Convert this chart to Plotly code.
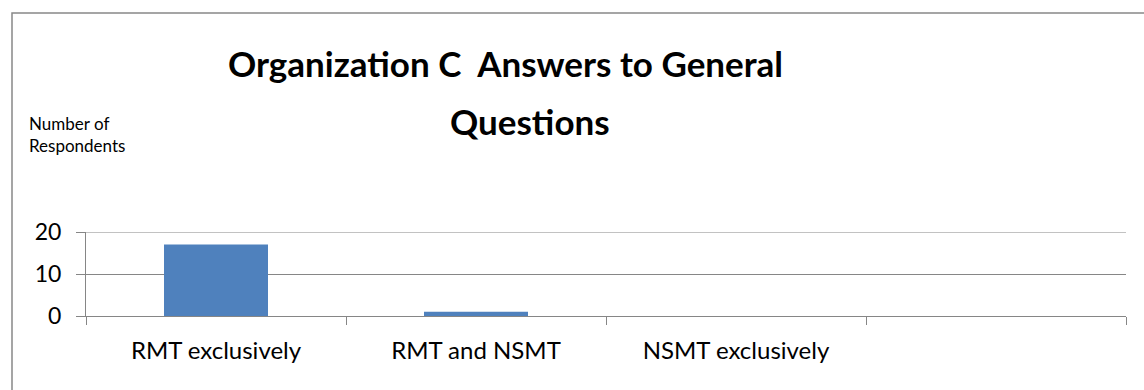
import plotly.graph_objects as go

# Survey answers, Organization C
categories = ["RMT exclusively", "RMT and NSMT", "NSMT exclusively", " "]
respondents = [17, 1, 0]
y_ticks = [0, 10, 20]
title_lines = ["Organization C&nbsp; Answers to General", "Questions"]

W, H = 1144, 390
FONT = "Lato, 'Open Sans', sans-serif"
GRID = "#868686"

def px_x(p):
    return p / W

def px_y(p):
    return (H - p) / H

fig = go.Figure(
    go.Bar(
        x=categories[:len(respondents)],
        y=respondents,
        width=0.4,
        marker=dict(color="#4F81BD", line=dict(width=0)),
    )
)

title_annotations = [
    dict(
        text=f"<b>{line}</b>",
        x=px_x(cx),
        y=px_y(cy),
        xref="paper",
        yref="paper",
        xanchor="center",
        yanchor="middle",
        showarrow=False,
        font=dict(size=35, family=FONT, color="#000000"),
    )
    for line, cx, cy in zip(title_lines, [505, 530], [63, 121])
]

fig.update_layout(
    width=W,
    height=H,
    margin=dict(l=0, r=0, t=0, b=0, pad=0),
    paper_bgcolor="white",
    plot_bgcolor="white",
    showlegend=False,
    font=dict(family=FONT, color="#000000"),
    xaxis=dict(
        domain=[px_x(86), px_x(1126)],
        type="category",
        categoryorder="array",
        categoryarray=categories,
        range=[-0.5, len(categories) - 0.5],
        tickson="boundaries",
        ticks="outside",
        ticklen=8,
        tickcolor=GRID,
        tickwidth=1,
        showline=True,
        linecolor=GRID,
        linewidth=1,
        showgrid=False,
        tickfont=dict(size=24, family=FONT),
        ticklabelstandoff=13,
        automargin=False,
        fixedrange=True,
    ),
    yaxis=dict(
        domain=[px_y(316), px_y(232)],
        range=[0, 20],
        tickvals=y_ticks,
        ticks="outside",
        ticklen=9,
        tickcolor=GRID,
        showline=True,
        linecolor=GRID,
        linewidth=1,
        showgrid=True,
        gridcolor=GRID,
        gridwidth=1,
        zeroline=False,
        tickfont=dict(size=23, family=FONT),
        ticklabelstandoff=10,
        automargin=False,
        fixedrange=True,
    ),
    annotations=title_annotations + [
        dict(
            text="Number of<br>Respondents",
            x=px_x(27),
            y=px_y(134),
            xref="paper",
            yref="paper",
            xanchor="left",
            yanchor="middle",
            align="left",
            showarrow=False,
            font=dict(size=17, family=FONT),
        )
    ],
    shapes=[
        # top gridline at the upper end of the value range
        dict(
            type="line",
            xref="x domain",
            yref="y",
            x0=0,
            x1=1,
            y0=y_ticks[-1],
            y1=y_ticks[-1],
            line=dict(color=GRID, width=1),
            layer="below",
        ),
        dict(
            type="rect",
            xref="paper",
            yref="paper",
            x0=px_x(12),
            x1=px_x(1150),
            y0=px_y(400),
            y1=px_y(13),
            line=dict(color="#888888", width=1.5),
            fillcolor="rgba(0,0,0,0)",
        ),
    ],
)

fig.write_html("out.html")
